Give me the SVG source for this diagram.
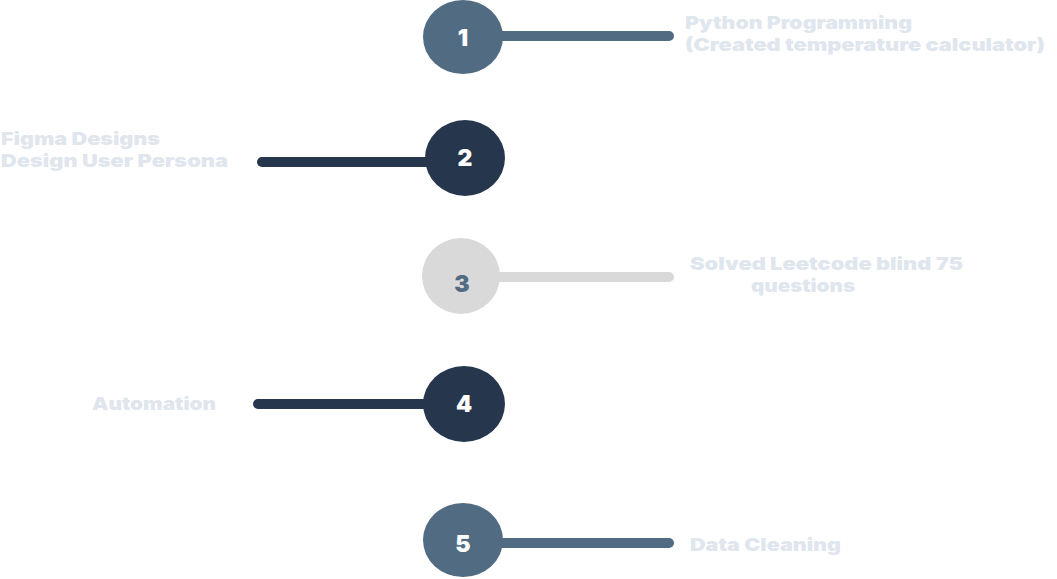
<svg xmlns="http://www.w3.org/2000/svg" width="1057" height="579" viewBox="0 0 1057 579">
<style>
.lbl{font-family:Inter,"DejaVu Sans",sans-serif;font-weight:900;font-size:18px;fill:#dfe6ee}
.num{font-family:Inter,"DejaVu Sans",sans-serif;font-weight:900;font-size:23px;text-anchor:middle}
.ln{stroke-width:10;stroke-linecap:round;fill:none}
</style>
<rect width="1057" height="579" fill="#ffffff"/>
<g id="connectors">
<line class="ln" x1="463" y1="36" x2="669" y2="36" stroke="#506b82"/>
<line class="ln" x1="262" y1="162" x2="465" y2="162" stroke="#25364d"/>
<line class="ln" x1="461" y1="277" x2="669" y2="277" stroke="#d9d9d9"/>
<line class="ln" x1="258" y1="404" x2="464" y2="404" stroke="#25364d"/>
<line class="ln" x1="463" y1="543" x2="669" y2="543" stroke="#506b82"/>
</g>
<g id="node1">
<ellipse cx="463" cy="37" rx="40" ry="37" fill="#506b82"/>
<text class="num" x="463" y="46" fill="#ffffff">1</text>
<text class="lbl" x="685" y="29" textLength="227" lengthAdjust="spacingAndGlyphs">Python Programming</text>
<text class="lbl" x="685" y="51" textLength="360" lengthAdjust="spacingAndGlyphs">(Created temperature calculator)</text>
</g>
<g id="node2">
<ellipse cx="465" cy="158" rx="40" ry="38" fill="#25364d"/>
<text class="num" x="465" y="166" fill="#ffffff">2</text>
<text class="lbl" x="1" y="145" textLength="159" lengthAdjust="spacingAndGlyphs">Figma Designs</text>
<text class="lbl" x="1" y="167" textLength="227" lengthAdjust="spacingAndGlyphs">Design User Persona</text>
</g>
<g id="node3">
<ellipse cx="461" cy="276" rx="39" ry="38" fill="#d9d9d9"/>
<text class="num" x="462" y="292" fill="#506b82">3</text>
<text class="lbl" x="690" y="270" textLength="273" lengthAdjust="spacingAndGlyphs">Solved Leetcode blind 75</text>
<text class="lbl" x="751" y="292" textLength="104" lengthAdjust="spacingAndGlyphs">questions</text>
</g>
<g id="node4">
<ellipse cx="464" cy="404" rx="41" ry="38" fill="#25364d"/>
<text class="num" x="464" y="412" fill="#ffffff">4</text>
<text class="lbl" x="92" y="410" textLength="124" lengthAdjust="spacingAndGlyphs">Automation</text>
</g>
<g id="node5">
<ellipse cx="463" cy="540" rx="40" ry="37" fill="#506b82"/>
<text class="num" x="463" y="552" fill="#ffffff">5</text>
<text class="lbl" x="690" y="551" textLength="151" lengthAdjust="spacingAndGlyphs">Data Cleaning</text>
</g>
</svg>
